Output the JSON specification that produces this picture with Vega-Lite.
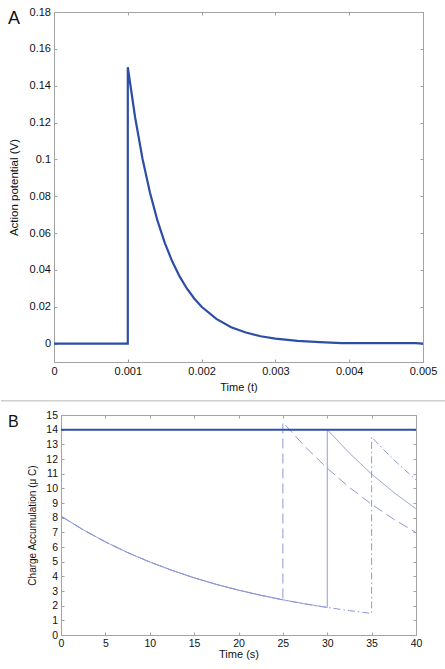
{
  "$schema": "https://vega.github.io/schema/vega-lite/v6.json",
  "padding": {"left": 0, "top": 5, "right": 0, "bottom": 0},
  "background": "white",
  "config": {
    "font": "Liberation Sans",
    "view": {"stroke": "#a3a3a3", "strokeWidth": 1},
    "axis": {"grid": false, "domain": false, "tickColor": "#a3a3a3", "tickSize": -3, "labelColor": "#111", "titleColor": "#111", "titleFontWeight": "normal", "labelFont": "Liberation Sans", "titleFont": "Liberation Sans"},
    "title": {"font": "Liberation Sans", "fontWeight": "normal", "color": "#111"}
  },
  "columns": 1,
  "align": "all",
  "bounds": "flush",
  "center": true,
  "spacing": 53,
  "concat": [
    {
      "title": {"text": "A", "anchor": "start", "frame": "group", "fontSize": 18, "offset": -2, "baseline": "top", "dx": -46, "dy": 20},
      "width": 369,
      "height": 350,
      "resolve": {"axis": {"x": "independent", "y": "independent"}},
      "layer": [
        {
          "data": {"values": [
            {"i": 0, "t": 0, "v": 0},
            {"i": 1, "t": 0.001, "v": 0},
            {"i": 2, "t": 0.001, "v": 0.15},
            {"i": 3, "t": 0.0011, "v": 0.1226},
            {"i": 4, "t": 0.0012, "v": 0.1002},
            {"i": 5, "t": 0.0013, "v": 0.082},
            {"i": 6, "t": 0.0014, "v": 0.067},
            {"i": 7, "t": 0.0015, "v": 0.0548},
            {"i": 8, "t": 0.0016, "v": 0.0448},
            {"i": 9, "t": 0.0017, "v": 0.0366},
            {"i": 10, "t": 0.0018, "v": 0.0299},
            {"i": 11, "t": 0.0019, "v": 0.0245},
            {"i": 12, "t": 0.002, "v": 0.02},
            {"i": 13, "t": 0.0022, "v": 0.0134},
            {"i": 14, "t": 0.0024, "v": 0.0089},
            {"i": 15, "t": 0.0026, "v": 0.006},
            {"i": 16, "t": 0.0028, "v": 0.004},
            {"i": 17, "t": 0.003, "v": 0.0027},
            {"i": 18, "t": 0.0033, "v": 0.0015},
            {"i": 19, "t": 0.0036, "v": 0.0008},
            {"i": 20, "t": 0.0039, "v": 0.0003},
            {"i": 21, "t": 0.0045, "v": 0.0002},
            {"i": 22, "t": 0.0049, "v": 0.0002},
            {"i": 23, "t": 0.005, "v": 0}
          ]},
          "mark": {"type": "line", "color": "#2e4ea6", "strokeWidth": 2.2},
          "encoding": {
            "x": {"field": "t", "type": "quantitative", "scale": {"domain": [0, 0.005], "nice": false, "zero": false},
                  "axis": {"orient": "bottom", "title": "Time (t)", "values": [0, 0.001, 0.002, 0.003, 0.004, 0.005], "format": "~g", "labelFontSize": 11, "titleFontSize": 11, "labelPadding": 6.5, "titlePadding": 5, "labelFlush": false}},
            "y": {"field": "v", "type": "quantitative", "scale": {"domain": [-0.01, 0.18], "nice": false, "zero": false},
                  "axis": {"orient": "left", "title": "Action potential (V)", "values": [0, 0.02, 0.04, 0.06, 0.08, 0.1, 0.12, 0.14, 0.16, 0.18], "format": "~g", "labelFontSize": 11, "titleFontSize": 11.5, "labelPadding": 6.5, "titlePadding": 9.5, "labelFlush": false}},
            "order": {"field": "i", "type": "quantitative"}
          }
        },
        {
          "data": {"values": [{"sep": 1}]},
          "mark": {"type": "rule", "color": "#b8b8b8", "strokeWidth": 1},
          "encoding": {
            "x": {"datum": -0.000718, "type": "quantitative", "scale": {"domain": [0, 0.005], "nice": false, "zero": false},
                  "axis": {"orient": "top", "title": null, "labels": false, "values": [0, 0.001, 0.002, 0.003, 0.004, 0.005]}},
            "x2": {"datum": 0.005312},
            "y": {"datum": -0.0311, "type": "quantitative", "scale": {"domain": [-0.01, 0.18], "nice": false, "zero": false},
                  "axis": {"orient": "right", "title": null, "labels": false, "values": [0, 0.02, 0.04, 0.06, 0.08, 0.1, 0.12, 0.14, 0.16, 0.18]}}
          }
        }
      ]
    },
    {
      "title": {"text": "B", "anchor": "start", "frame": "group", "fontSize": 16, "offset": -2, "baseline": "top", "dx": -53, "dy": 18},
      "width": 355,
      "height": 220,
      "resolve": {"axis": {"x": "independent", "y": "independent"}},
      "layer": [
        {
          "data": {"values": [
            {"s": "dashed", "i": 0, "t": 0, "q": 8.1},
            {"s": "dashed", "i": 1, "t": 2.5, "q": 7.17},
            {"s": "dashed", "i": 2, "t": 5, "q": 6.35},
            {"s": "dashed", "i": 3, "t": 7.5, "q": 5.62},
            {"s": "dashed", "i": 4, "t": 10, "q": 4.98},
            {"s": "dashed", "i": 5, "t": 12.5, "q": 4.41},
            {"s": "dashed", "i": 6, "t": 15, "q": 3.9},
            {"s": "dashed", "i": 7, "t": 17.5, "q": 3.45},
            {"s": "dashed", "i": 8, "t": 20, "q": 3.06},
            {"s": "dashed", "i": 9, "t": 22.5, "q": 2.71},
            {"s": "dashed", "i": 10, "t": 25, "q": 2.4},
            {"s": "dashed", "i": 11, "t": 25, "q": 14.5},
            {"s": "dashed", "i": 12, "t": 27.5, "q": 12.84},
            {"s": "dashed", "i": 13, "t": 30, "q": 11.37},
            {"s": "dashed", "i": 14, "t": 32.5, "q": 10.06},
            {"s": "dashed", "i": 15, "t": 35, "q": 8.91},
            {"s": "dashed", "i": 16, "t": 37.5, "q": 7.89},
            {"s": "dashed", "i": 17, "t": 40, "q": 6.98},
            {"s": "solid", "i": 0, "t": 0, "q": 8.1},
            {"s": "solid", "i": 1, "t": 2.5, "q": 7.17},
            {"s": "solid", "i": 2, "t": 5, "q": 6.35},
            {"s": "solid", "i": 3, "t": 7.5, "q": 5.62},
            {"s": "solid", "i": 4, "t": 10, "q": 4.98},
            {"s": "solid", "i": 5, "t": 12.5, "q": 4.41},
            {"s": "solid", "i": 6, "t": 15, "q": 3.9},
            {"s": "solid", "i": 7, "t": 17.5, "q": 3.45},
            {"s": "solid", "i": 8, "t": 20, "q": 3.06},
            {"s": "solid", "i": 9, "t": 22.5, "q": 2.71},
            {"s": "solid", "i": 10, "t": 25, "q": 2.4},
            {"s": "solid", "i": 11, "t": 27.5, "q": 2.12},
            {"s": "solid", "i": 12, "t": 30, "q": 1.88},
            {"s": "solid", "i": 13, "t": 30, "q": 14},
            {"s": "solid", "i": 14, "t": 32.5, "q": 12.4},
            {"s": "solid", "i": 15, "t": 35, "q": 10.97},
            {"s": "solid", "i": 16, "t": 37.5, "q": 9.72},
            {"s": "solid", "i": 17, "t": 40, "q": 8.6},
            {"s": "dashdot", "i": 0, "t": 0, "q": 8.1},
            {"s": "dashdot", "i": 1, "t": 2.5, "q": 7.17},
            {"s": "dashdot", "i": 2, "t": 5, "q": 6.35},
            {"s": "dashdot", "i": 3, "t": 7.5, "q": 5.62},
            {"s": "dashdot", "i": 4, "t": 10, "q": 4.98},
            {"s": "dashdot", "i": 5, "t": 12.5, "q": 4.41},
            {"s": "dashdot", "i": 6, "t": 15, "q": 3.9},
            {"s": "dashdot", "i": 7, "t": 17.5, "q": 3.45},
            {"s": "dashdot", "i": 8, "t": 20, "q": 3.06},
            {"s": "dashdot", "i": 9, "t": 22.5, "q": 2.71},
            {"s": "dashdot", "i": 10, "t": 25, "q": 2.4},
            {"s": "dashdot", "i": 11, "t": 27.5, "q": 2.12},
            {"s": "dashdot", "i": 12, "t": 30, "q": 1.88},
            {"s": "dashdot", "i": 13, "t": 32.5, "q": 1.66},
            {"s": "dashdot", "i": 14, "t": 35, "q": 1.47},
            {"s": "dashdot", "i": 15, "t": 35, "q": 13.5},
            {"s": "dashdot", "i": 16, "t": 36.25, "q": 12.7},
            {"s": "dashdot", "i": 17, "t": 37.5, "q": 11.95},
            {"s": "dashdot", "i": 18, "t": 38.75, "q": 11.25},
            {"s": "dashdot", "i": 19, "t": 40, "q": 10.58}
          ]},
          "mark": {"type": "line", "color": "#8c97d8", "strokeWidth": 1},
          "encoding": {
            "x": {"field": "t", "type": "quantitative", "scale": {"domain": [0, 40], "nice": false, "zero": false},
                  "axis": {"orient": "bottom", "title": "Time (s)", "values": [0, 5, 10, 15, 20, 25, 30, 35, 40], "labelFontSize": 10.5, "titleFontSize": 11, "labelPadding": 6, "titlePadding": 0, "labelFlush": false}},
            "y": {"field": "q", "type": "quantitative", "scale": {"domain": [0, 15], "nice": false, "zero": false},
                  "axis": {"orient": "left", "title": "Charge Accumulation (μ C)", "values": [0, 1, 2, 3, 4, 5, 6, 7, 8, 9, 10, 11, 12, 13, 14, 15], "labelFontSize": 10.5, "titleFontSize": 10, "labelPadding": 6.5, "titlePadding": 8, "labelFlush": false}},
            "detail": {"field": "s"},
            "strokeDash": {"field": "s", "type": "nominal", "legend": null,
                           "scale": {"domain": ["dashed", "solid", "dashdot"], "range": [[10, 5], [1, 0], [7, 3, 1.5, 3]]}},
            "order": {"field": "i", "type": "quantitative"}
          }
        },
        {
          "data": {"values": [{"t": 0, "q": 14}, {"t": 40, "q": 14}]},
          "mark": {"type": "line", "color": "#2f4fa8", "strokeWidth": 2},
          "encoding": {
            "x": {"field": "t", "type": "quantitative", "scale": {"domain": [0, 40], "nice": false, "zero": false},
                  "axis": {"orient": "top", "title": null, "labels": false, "values": [0, 5, 10, 15, 20, 25, 30, 35, 40]}},
            "y": {"field": "q", "type": "quantitative", "scale": {"domain": [0, 15], "nice": false, "zero": false},
                  "axis": {"orient": "right", "title": null, "labels": false, "values": [0, 1, 2, 3, 4, 5, 6, 7, 8, 9, 10, 11, 12, 13, 14, 15]}}
          }
        }
      ]
    }
  ]
}
